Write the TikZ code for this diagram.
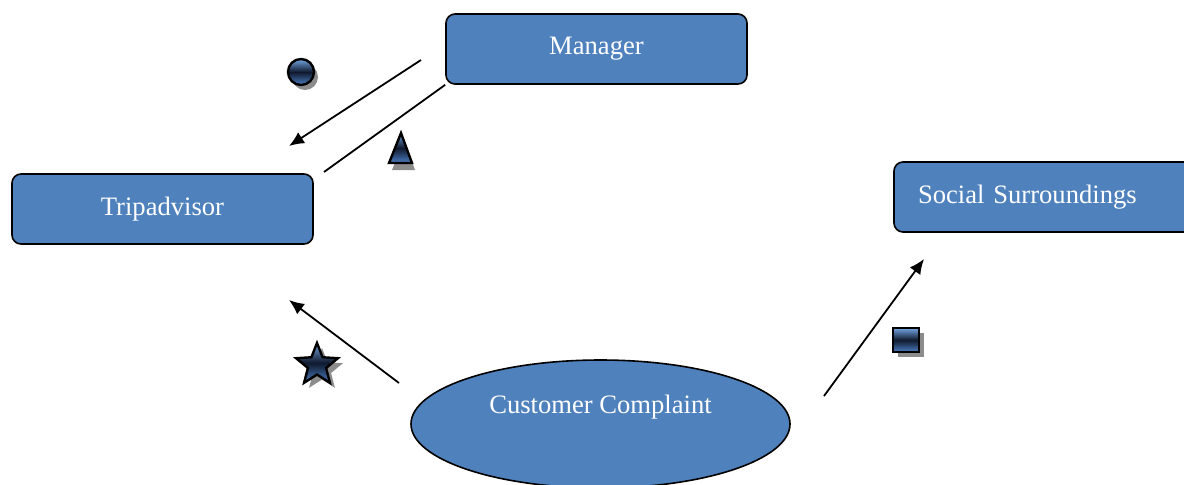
\documentclass[tikz,border=0pt]{standalone}
\usepackage{fontspec}
\setmainfont{Liberation Serif}
\usetikzlibrary{positioning,shapes.geometric,arrows.meta}

\definecolor{boxblue}{RGB}{79,129,189}
\definecolor{symtop}{RGB}{115,165,225}
\definecolor{symmid}{RGB}{15,25,45}
\definecolor{symbot}{RGB}{75,125,195}

\tikzset{
  box/.style={draw=black, line width=0.8pt, fill=boxblue, rounded corners=4.5pt,
    minimum width=150.5pt, minimum height=35pt, text=white,
    font=\fontsize{13.3}{16}\selectfont},
  symb/.style={draw=black, line width=1.2pt, top color=symtop, bottom color=symbot,
    middle color=symmid},
  shadow/.style={fill=black!45, draw=none},
  arr/.style={-{Latex[length=7.5pt,width=6.5pt]}, line width=0.9pt},
}

\begin{document}
\begin{tikzpicture}[x=0.5pt,y=-0.5pt,inner sep=0.4mm]
\useasboundingbox (0,0) rectangle (1184,484);
\clip (0,0) rectangle (1184,484);

% boxes
\node[box] (man) at (596.5,49) {Manager};
\node[box] (trip) at (162.5,209) {Tripadvisor};
\node[box, text width=126.5pt, align=left, inner xsep=12pt] (soc) at (1044.5,197) {Social Surroundings};
\node[draw=black, line width=0.8pt, fill=boxblue, ellipse, minimum width=189.5pt, minimum height=64pt] (cc) at (600.5,424) {};
\node[text=white, font=\fontsize{13.3}{16}\selectfont] (cctext) at (600.5,407) {Customer Complaint};

% free ends of the connectors
\coordinate (m1) at (421,60);
\coordinate (t1) at (289,146);
\coordinate (t2) at (324,172);
\coordinate (c1) at (399,383);
\coordinate (t3) at (289,300);
\coordinate (c2) at (824,396);
\coordinate (s1) at (924,259);
\draw[arr] (m1)--(t1);
\draw[line width=0.9pt] (man.south west)--(t2);
\draw[arr] (c1)--(t3);
\draw[arr] (c2)--(s1);

% symbols
\fill[shadow] (305,77) circle (6.5pt);
\draw[symb] (301,72) circle (6.5pt);
\fill[shadow] (392,170)--(404,140)--(415,170)--cycle;
\draw[symb] (389,163)--(401,133)--(412,163)--cycle;
\node[star, star points=5, star point ratio=2.3, minimum size=22pt, inner sep=0pt, shadow] (stsh) at (322,370) {};
\node[star, star points=5, star point ratio=2.3, minimum size=22pt, inner sep=0pt, symb] (st) at (317,365) {};
\fill[shadow] (898,333) rectangle (924,357);
\draw[symb] (893,328) rectangle (919,352);
\end{tikzpicture}
\end{document}
